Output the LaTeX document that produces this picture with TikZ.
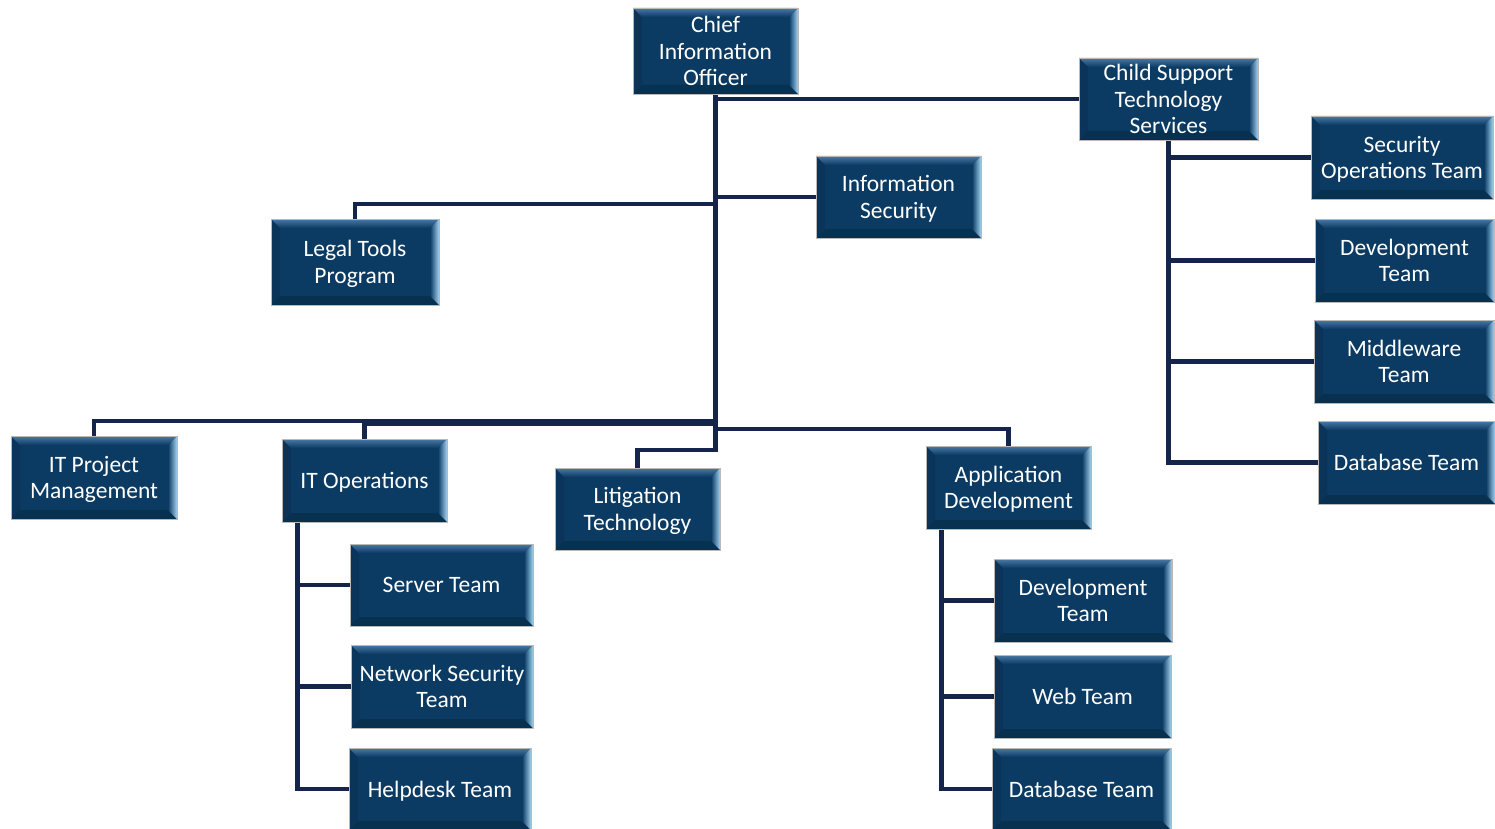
\documentclass[tikz,border=0pt]{standalone}
\usepackage{fontspec}
\setmainfont{Carlito}
\usetikzlibrary{backgrounds}
\definecolor{boxblue}{HTML}{0B3B63}
\definecolor{bevtop}{HTML}{4A7AA5}
\definecolor{bevright}{HTML}{A6D2F2}
\definecolor{bevbot}{HTML}{08304F}
\definecolor{bevleft}{HTML}{0A3459}
\definecolor{linecol}{HTML}{14244A}
\tikzset{
  box/.style={rectangle, fill=boxblue, draw=gray!55, line width=0.7pt, text=white,
    align=center, inner sep=0pt, text depth=-1.5pt, font=\fontsize{23.5}{26.5}\selectfont,
    path picture={
      \coordinate (nw) at (path picture bounding box.north west);
      \coordinate (ne) at (path picture bounding box.north east);
      \coordinate (sw) at (path picture bounding box.south west);
      \coordinate (se) at (path picture bounding box.south east);
      \fill[bevleft] (nw) -- (sw) -- ([xshift=9pt,yshift=9pt]sw) -- ([xshift=9pt,yshift=-9pt]nw) -- cycle;
      \fill[bevbot] (sw) -- (se) -- ([xshift=-9pt,yshift=9pt]se) -- ([xshift=9pt,yshift=9pt]sw) -- cycle;
      \shade[top color=bevtop, bottom color=boxblue] (nw) -- (ne) -- ([xshift=-9pt,yshift=-9pt]ne) -- ([xshift=9pt,yshift=-9pt]nw) -- cycle;
      \shade[left color=boxblue, right color=bevright] (ne) -- (se) -- ([xshift=-9pt,yshift=9pt]se) -- ([xshift=-9pt,yshift=-9pt]ne) -- cycle;
    }},
  conn/.style={draw=linecol, line width=4.5pt},
}
\begin{document}
\begin{tikzpicture}[x=1pt,y=-1pt]
\useasboundingbox (0,0) rectangle (1495,829);
% boxes
\node[box, minimum width=165pt, minimum height=86pt] (cio) at (715.5,51) {Chief\\Information\\Officer};
\node[box, minimum width=179pt, minimum height=82pt] (csts) at (1168.5,99) {Child Support\\Technology\\Services};
\node[box, minimum width=165pt, minimum height=82pt] (infosec) at (898.5,197) {Information\\Security};
\node[box, minimum width=168pt, minimum height=86pt] (legal) at (355,262) {Legal Tools\\Program};
\node[box, minimum width=182pt, minimum height=83pt] (secops) at (1402,157.5) {Security\\Operations Team};
\node[box, minimum width=179pt, minimum height=83pt] (devr) at (1404.5,260.5) {Development\\Team};
\node[box, minimum width=180pt, minimum height=83pt] (mid) at (1404,361.5) {Middleware\\Team};
\node[box, minimum width=177pt, minimum height=83pt] (dbr) at (1406.5,462.5) {Database Team};
\node[box, minimum width=166pt, minimum height=83pt] (itpm) at (94,477.5) {IT Project\\Management};
\node[box, minimum width=165pt, minimum height=83pt] (itops) at (364.5,480.5) {IT Operations};
\node[box, minimum width=165pt, minimum height=82pt] (lit) at (637.5,509) {Litigation\\Technology};
\node[box, minimum width=165pt, minimum height=83pt] (appdev) at (1008.5,487.5) {Application\\Development};
\node[box, minimum width=183pt, minimum height=82pt] (server) at (441.5,585) {Server Team};
\node[box, minimum width=182pt, minimum height=83pt] (netsec) at (442,686.5) {Network Security\\Team};
\node[box, minimum width=182pt, minimum height=82pt] (help) at (440,789) {Helpdesk Team};
\node[box, minimum width=178pt, minimum height=83pt] (devb) at (1083,600.5) {Development\\Team};
\node[box, minimum width=177pt, minimum height=83pt] (web) at (1082.5,696.5) {Web Team};
\node[box, minimum width=179pt, minimum height=82pt] (dbb) at (1081.5,789) {Database Team};
% junction coordinates
\coordinate (lj) at (cio.south |- 0,204);
\coordinate (pj) at (cio.south |- 0,421);
\coordinate (oj2) at (cio.south |- 0,424);
\coordinate (aj) at (cio.south |- 0,429);
\coordinate (tr) at (cio.south |- 0,450);
\coordinate (oj) at ([xshift=16pt]itops.south west);
\coordinate (dj) at ([xshift=16pt]appdev.south west);
% connectors
\begin{scope}[on background layer]
\draw[conn] (cio.south) -- (tr) -| (lit.north);
\draw[conn] (cio.south |- csts.west) -- (csts.west);
\draw[conn] (cio.south |- infosec.west) -- (infosec.west);
\draw[conn] (lj) -| (legal.north);
\draw[conn] (pj) -| (itpm.north);
\draw[conn] (oj2) -| (itops.north);
\draw[conn] (aj) -| (appdev.north);
\draw[conn] (csts.south) |- (dbr.west);
\draw[conn] (csts.south |- secops.west) -- (secops.west);
\draw[conn] (csts.south |- devr.west) -- (devr.west);
\draw[conn] (csts.south |- mid.west) -- (mid.west);
\draw[conn] (oj) |- (help.west);
\draw[conn] (oj |- server.west) -- (server.west);
\draw[conn] (oj |- netsec.west) -- (netsec.west);
\draw[conn] (dj) |- (dbb.west);
\draw[conn] (dj |- devb.west) -- (devb.west);
\draw[conn] (dj |- web.west) -- (web.west);
\end{scope}
\end{tikzpicture}
\end{document}
